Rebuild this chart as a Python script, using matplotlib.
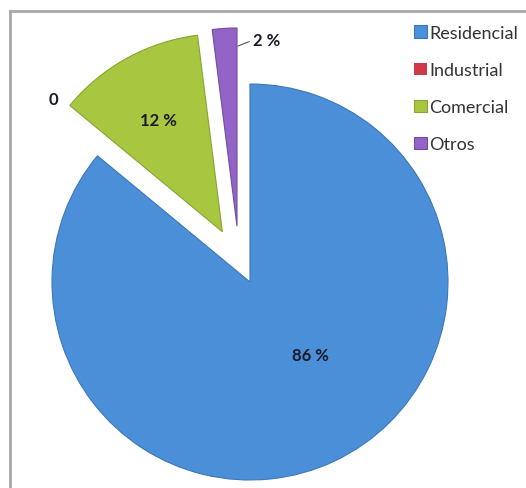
import matplotlib.pyplot as plt
from matplotlib.lines import Line2D

# data
categories = ['Residencial', 'Industrial', 'Comercial', 'Otros']
shares = [86, 0, 12, 2]
colors = ['#4b8fd8', '#d0394a', '#a8c63f', '#9463c8']
edges = ['#3c77b8', '#a02a38', '#88a433', '#724c9e']
explode = [0.0, 0.0, 0.29, 0.29]

W, H = 526, 489
CX, CY, R = 250, 283, 198  # pie centre / radius in pixels


def to_data(px, py):
    return (px - CX) / R, (CY - py) / R


plt.rcParams['font.family'] = ['Lato', 'DejaVu Sans']

fig = plt.figure(figsize=(W / 100, H / 100), dpi=100)
ax = fig.add_axes([0, 0, 1, 1])

wedges, _ = ax.pie(shares, colors=colors, explode=explode, startangle=90,
                   counterclock=False, radius=1.0,
                   wedgeprops=dict(linewidth=0.8))
for w, ec, v in zip(wedges, edges, shares):
    w.set_edgecolor(ec)
    if v == 0:
        w.set_linewidth(0)
# in the reference the small slice sits a bit further left
wedges[3].set_center(to_data(237, 227))

x0, y1 = to_data(0, 0)
x1, y0 = to_data(W, H)
ax.set_xlim(x0, x1)
ax.set_ylim(y0, y1)
ax.set_aspect('auto')
ax.axis('off')

# data labels
lab_pos = {'86 %': (310, 356), '0': (53, 100), '12 %': (158, 121)}
for txt, (px, py) in lab_pos.items():
    ax.text(*to_data(px, py), txt, ha='center', va='center',
            fontsize=12, fontweight='bold', color='#1a1a2a')
ax.annotate('2 %', xy=to_data(238, 47), xytext=to_data(267, 41),
            ha='center', va='center', fontsize=12, fontweight='bold',
            color='#1a1a2a',
            arrowprops=dict(arrowstyle='-', color='#555555', lw=0.8,
                            shrinkA=1, shrinkB=0,
                            relpos=(0.0, 0.5)))

leg = ax.legend(wedges, categories, loc='upper left',
                bbox_to_anchor=(405 / W, 1 - 17 / H),
                bbox_transform=fig.transFigure, frameon=False,
                fontsize=13, labelspacing=1.17, handlelength=0.7,
                handleheight=0.7, handletextpad=0.15, borderpad=0)
for t in leg.get_texts():
    t.set_color('#333333')

# chart frame (right and bottom edges run off the picture)
fig.add_artist(Line2D([10 / W, 10 / W], [0, 1 - 12 / H],
                      transform=fig.transFigure, color='#a8a8a8', lw=2))
fig.add_artist(Line2D([10 / W, 1], [1 - 12 / H, 1 - 12 / H],
                      transform=fig.transFigure, color='#a8a8a8', lw=2))

fig.savefig('out.png', dpi=100, facecolor='white')
